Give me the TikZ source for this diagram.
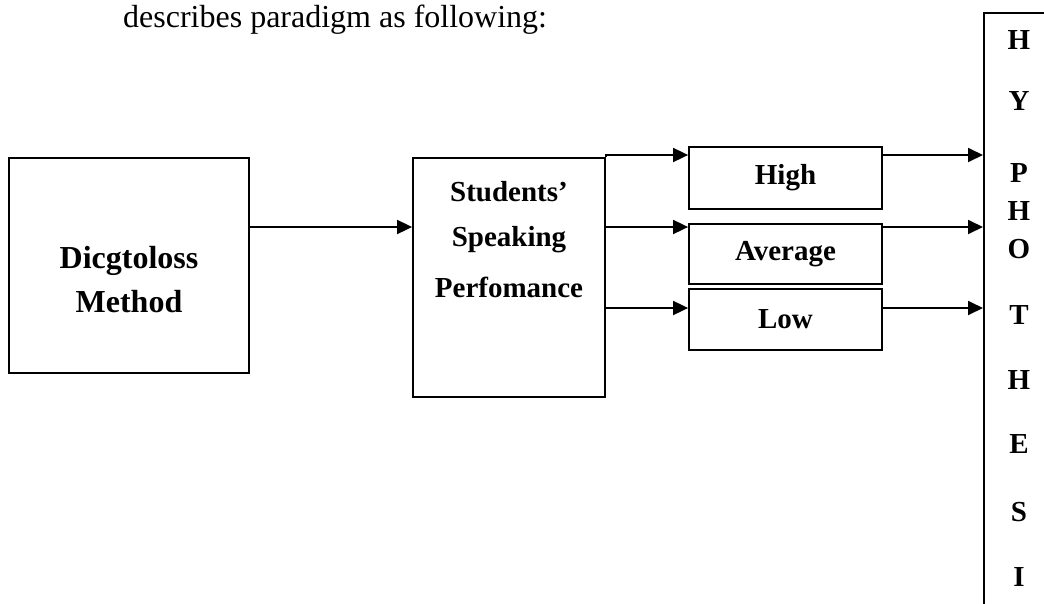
\documentclass[tikz,border=0pt]{standalone}
\usepackage{fontspec}
\setmainfont{Liberation Serif}
\usetikzlibrary{arrows.meta}
\begin{document}
\begin{tikzpicture}[x=1pt,y=-1pt,
  box/.style={draw, line width=1.8pt, inner sep=0pt},
  arr/.style={line width=1.8pt, -{Triangle[length=15pt,width=14pt]}},
  lbl/.style={font=\fontsize{29}{29}\selectfont\bfseries, anchor=base, inner sep=0pt},
  lblbig/.style={font=\fontsize{32}{32}\selectfont\bfseries, anchor=base, inner sep=0pt},
  body/.style={font=\fontsize{32}{32}\selectfont, anchor=base west, inner sep=0pt},
  lvl/.style={font=\fontsize{29}{29}\selectfont\bfseries}
]
\useasboundingbox (0,0) rectangle (1044,603);
\clip (0,0) rectangle (1044,603);

\node[body] (cap) at (123,27) {describes paradigm as following:};

% boxes
\node[box, minimum width=240pt, minimum height=215pt] (dm) at (129,265.5) {};
\node[box, minimum width=192pt, minimum height=239pt] (stud) at (509,277.5) {};
\node[box, lvl, minimum width=193pt, minimum height=62pt] (high) at (785.5,178) {High};
\node[box, lvl, minimum width=193pt, minimum height=60pt] (avg) at (785.5,254) {Average};
\node[box, lvl, minimum width=193pt, minimum height=61pt] (low) at (785.5,319.5) {Low};
\node[box, minimum width=100pt, minimum height=640pt, anchor=north west] (hyp) at (983,12) {};

% texts in big boxes
\node[lblbig] (dm1) at (129,268) {Dicgtoloss};
\node[lblbig] (dm2) at (129,312) {Method};
\node[lbl] (st1) at (509,201) {Students’};
\node[lbl] (st2) at (509,246) {Speaking};
\node[lbl] (st3) at (509,297) {Perfomance};

% hypothesis letters
\node[lbl] (h1) at (1019,49) {H};
\node[lbl] (h2) at (1019,110) {Y};
\node[lbl] (h3) at (1019,182) {P};
\node[lbl] (h4) at (1019,220) {H};
\node[lbl] (h5) at (1019,258) {O};
\node[lbl] (h6) at (1019,324) {T};
\node[lbl] (h7) at (1019,389) {H};
\node[lbl] (h8) at (1019,453) {E};
\node[lbl] (h9) at (1019,521) {S};
\node[lbl] (h10) at (1019,586) {I};

% levels
\coordinate (y0) at (0,227);
\coordinate (y1) at (0,155);
\coordinate (y2) at (0,227);
\coordinate (y3) at (0,308);

\draw[arr] (dm.east |- y0) -- (stud.west |- y0);
\draw[arr] (stud.north east) -- (stud.east |- y1) -- (high.west |- y1);
\draw[arr] (stud.east |- y2) -- (avg.west |- y2);
\draw[arr] (stud.east |- y3) -- (low.west |- y3);
\draw[arr] (high.east |- y1) -- (hyp.west |- y1);
\draw[arr] (avg.east |- y2) -- (hyp.west |- y2);
\draw[arr] (low.east |- y3) -- (hyp.west |- y3);
\end{tikzpicture}
\end{document}
